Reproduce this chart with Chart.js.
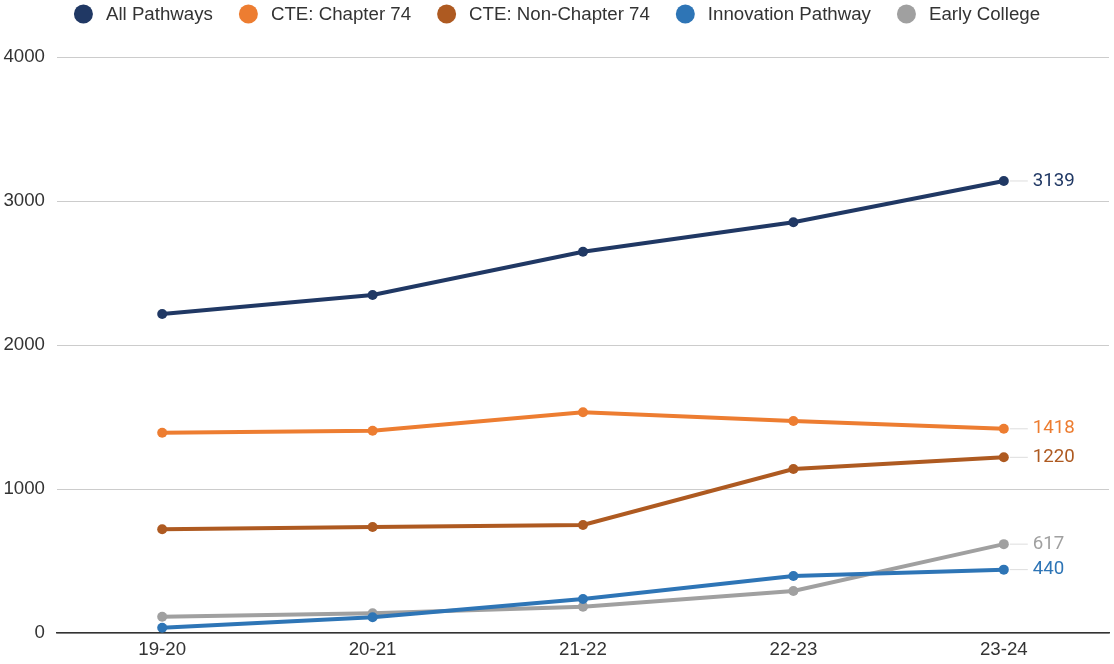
<!DOCTYPE html>
<html>
<head>
<meta charset="utf-8">
<script src="https://cdn.jsdelivr.net/npm/chart.js@4.4.1/dist/chart.umd.min.js"></script>
<style>
html,body{margin:0;padding:0;background:#fff;}
#wrap{width:1114px;height:664px;position:relative;}
</style>
</head>
<body>
<div id="wrap"><canvas id="c" width="1114" height="664"></canvas></div>
<script>
const categories = ["19-20", "20-21", "21-22", "22-23", "23-24"];
const seriesNames = ["All Pathways", "CTE: Chapter 74", "CTE: Non-Chapter 74", "Innovation Pathway", "Early College"];
const allPathways = [2215, 2347, 2648, 2852, 3139];
const cteChapter74 = [1391, 1405, 1533, 1472, 1418];
const cteNonChapter74 = [720, 736, 750, 1139, 1220];
const innovationPathway = [37, 109, 236, 396, 440];
const earlyCollege = [113, 137, 183, 292, 617];
const yTicks = [0, 1000, 2000, 3000, 4000];
const colors = ["#203864", "#ED7D31", "#AE5A21", "#2E75B6", "#A0A0A0"];

const seriesValues = [allPathways, cteChapter74, cteNonChapter74, innovationPathway, earlyCollege];
const FONT_FAMILY = '"Liberation Sans", Arial, sans-serif';
const FONT_SIZE = 18.7;

const datasets = seriesNames.map((name, i) => ({
  label: name,
  data: seriesValues[i],
  borderColor: colors[i],
  backgroundColor: colors[i],
  borderWidth: 4,
  pointRadius: 5,
  pointHoverRadius: 5,
  pointBackgroundColor: colors[i],
  pointBorderWidth: 0,
  tension: 0,
  fill: false
}));

const legendPlugin = {
  id: 'customLegend',
  afterDraw(chart) {
    const ctx = chart.ctx;
    ctx.save();
    ctx.font = FONT_SIZE + 'px ' + FONT_FAMILY;
    ctx.textBaseline = 'middle';
    const r = 9.5, gapText = 13, gapItem = 26;
    const items = chart.data.datasets.map(d => ({label: d.label, color: d.borderColor, w: ctx.measureText(d.label).width}));
    let total = 0;
    items.forEach((it, i) => { total += r * 2 + gapText + it.w + (i < items.length - 1 ? gapItem : 0); });
    let x = (chart.width - total) / 2;
    const y = 14;
    items.forEach(it => {
      ctx.fillStyle = it.color;
      ctx.beginPath();
      ctx.arc(x + r, y, r, 0, Math.PI * 2);
      ctx.fill();
      x += r * 2 + gapText;
      ctx.fillStyle = '#333';
      ctx.textAlign = 'left';
      ctx.fillText(it.label, x, y + 1);
      x += it.w + gapItem;
    });
    ctx.restore();
  }
};

const endLabelPlugin = {
  id: 'endLabels',
  afterDatasetsDraw(chart) {
    const ctx = chart.ctx;
    ctx.save();
    ctx.font = '18.7px Roboto, sans-serif';
    ctx.textBaseline = 'middle';
    ctx.textAlign = 'left';
    chart.data.datasets.forEach((ds, i) => {
      const meta = chart.getDatasetMeta(i);
      const last = meta.data.length - 1;
      const pt = meta.data[last];
      ctx.strokeStyle = '#DDDDDD';
      ctx.lineWidth = 1;
      ctx.beginPath();
      ctx.moveTo(pt.x + 6, pt.y);
      ctx.lineTo(pt.x + 24, pt.y);
      ctx.stroke();
      ctx.fillStyle = ds.borderColor;
      ctx.fillText(String(ds.data[last]), pt.x + 29, pt.y);
    });
    ctx.restore();
  }
};

new Chart(document.getElementById('c'), {
  type: 'line',
  data: { labels: categories, datasets: datasets },
  options: {
    responsive: false,
    animation: false,
    events: [],
    layout: { padding: { top: 57, right: 1, left: 0, bottom: 0 } },
    plugins: {
      legend: { display: false },
      tooltip: { enabled: false }
    },
    scales: {
      x: {
        type: 'category',
        offset: true,
        grid: { display: false, drawTicks: false },
        border: { display: true, color: '#333333', width: 1.5 },
        ticks: {
          color: '#333',
          font: { family: FONT_FAMILY, size: FONT_SIZE },
          padding: 6,
          maxRotation: 0
        },
        afterFit(scale) { scale.height = 31; scale.paddingLeft = 0; scale.paddingRight = 0; }
      },
      y: {
        min: 0,
        max: 4000,
        afterBuildTicks(scale) { scale.ticks = yTicks.map(v => ({ value: v })); },
        grid: { color: '#CCCCCC', lineWidth: 1, drawTicks: false },
        border: { display: false },
        ticks: {
          color: '#333',
          font: { family: FONT_FAMILY, size: FONT_SIZE },
          padding: 12,
          callback: (v) => String(v)
        },
        afterFit(scale) { scale.width = 57; }
      }
    }
  },
  plugins: [legendPlugin, endLabelPlugin]
});
</script>
</body>
</html>
